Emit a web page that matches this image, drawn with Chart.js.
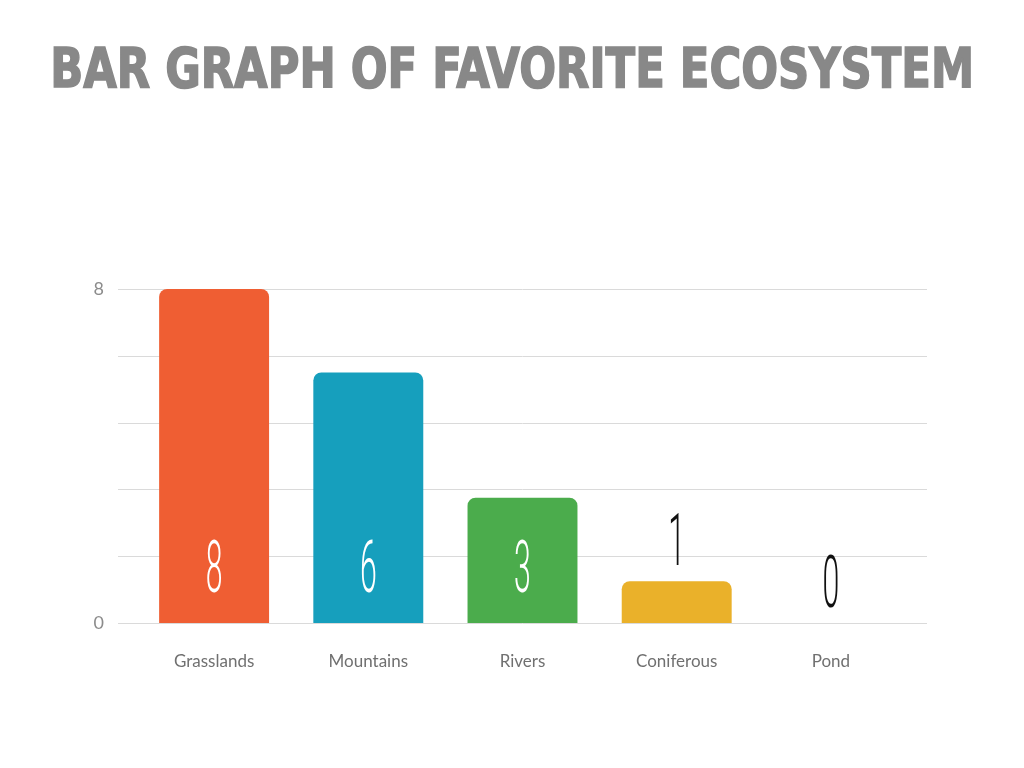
<!DOCTYPE html>
<html>
<head>
<meta charset="utf-8">
<script src="https://cdn.jsdelivr.net/npm/chart.js@4.4.1/dist/chart.umd.min.js"></script>
<style>
  html, body { margin: 0; padding: 0; background: #fff; }
  #page { position: relative; width: 1024px; height: 768px; overflow: hidden; }
  #title {
    position: absolute; top: 31px; left: -200px; width: 1424px; text-align: center;
    font-family: "DejaVu Sans Condensed", "DejaVu Sans"; font-weight: bold;
    font-size: 56px; color: #888888; white-space: nowrap; line-height: 74px;
    -webkit-text-stroke: 1.5px #888888;
  }
  #title span { display: inline-block; transform: scaleX(0.86); transform-origin: center; }
  #chart { position: absolute; top: 0; left: 0; }
</style>
</head>
<body>
<div id="page">
  <div id="title"><span>BAR GRAPH OF FAVORITE ECOSYSTEM</span></div>
  <canvas id="chart" width="1024" height="768"></canvas>
</div>
<script>
// données
const ecosystemes = ["Grasslands", "Mountains", "Rivers", "Coniferous", "Pond"];
const votes = [8, 6, 3, 1, 0];
const couleurs = ["#EF5E33", "#169FBD", "#4BAC4C", "#EAB12A", "#888888"];
const yTicksAffiches = [0, 8];

// lignes de grille un peu plus longues que la zone des barres
const grilleLongue = {
    id: 'grilleLongue',
    beforeDatasetsDraw(chart) {
        const ctx = chart.ctx;
        const area = chart.chartArea;
        const y = chart.scales.y;
        ctx.save();
        ctx.strokeStyle = '#dadada';
        ctx.lineWidth = 1;
        y.ticks.forEach(t => {
            const py = Math.round(y.getPixelForValue(t.value)) + 0.5;
            ctx.beginPath();
            ctx.moveTo(area.left - 19, py);
            ctx.lineTo(area.right + 19, py);
            ctx.stroke();
        });
        ctx.restore();
    }
};

// gros chiffres fins sur / au-dessus des barres
const etiquettes = {
    id: 'etiquettes',
    afterDatasetsDraw(chart) {
        const ctx = chart.ctx;
        const meta = chart.getDatasetMeta(0);
        ctx.save();
        ctx.textAlign = 'center';
        ctx.textBaseline = 'middle';
        ctx.font = '300 72px Roboto';
        meta.data.forEach((bar, i) => {
            const haut = bar.base - bar.y;
            let cy, coul;
            if (haut > 80) {
                cy = bar.base - 56;
                coul = '#ffffff';
            } else {
                cy = bar.y - 41;
                coul = '#111111';
            }
            ctx.save();
            ctx.translate(bar.x, cy + 7);
            ctx.scale(0.42, 1);
            ctx.fillStyle = coul;
            ctx.fillText(String(votes[i]), 0, 0);
            ctx.restore();
        });
        ctx.restore();
    }
};

new Chart(document.getElementById('chart'), {
    type: 'bar',
    data: {
        labels: ecosystemes,
        datasets: [{
            data: votes,
            backgroundColor: couleurs,
            borderRadius: { topLeft: 8, topRight: 8 },
            borderSkipped: 'start',
            barPercentage: 0.713,
            categoryPercentage: 1
        }]
    },
    options: {
        responsive: false,
        animation: false,
        layout: { padding: { left: 60, right: 116, top: 289, bottom: 85 } },
        plugins: { legend: { display: false }, tooltip: { enabled: false } },
        scales: {
            x: {
                grid: { display: false },
                border: { display: false },
                ticks: { color: '#707070', font: { family: 'Lato', size: 17 }, padding: 20 },
                afterFit: s => { s.height = 60; }
            },
            y: {
                min: 0,
                max: 8,
                grid: { display: false },
                border: { display: false },
                ticks: {
                    stepSize: 1.6,
                    color: '#8c8c8c',
                    font: { family: 'Lato', size: 18 },
                    padding: 25,
                    callback: v => yTicksAffiches.some(t => Math.abs(t - v) < 1e-6) ? Math.round(v) : ''
                },
                afterFit: s => { s.width = 77; }
            }
        }
    },
    plugins: [grilleLongue, etiquettes]
});
</script>
</body>
</html>
